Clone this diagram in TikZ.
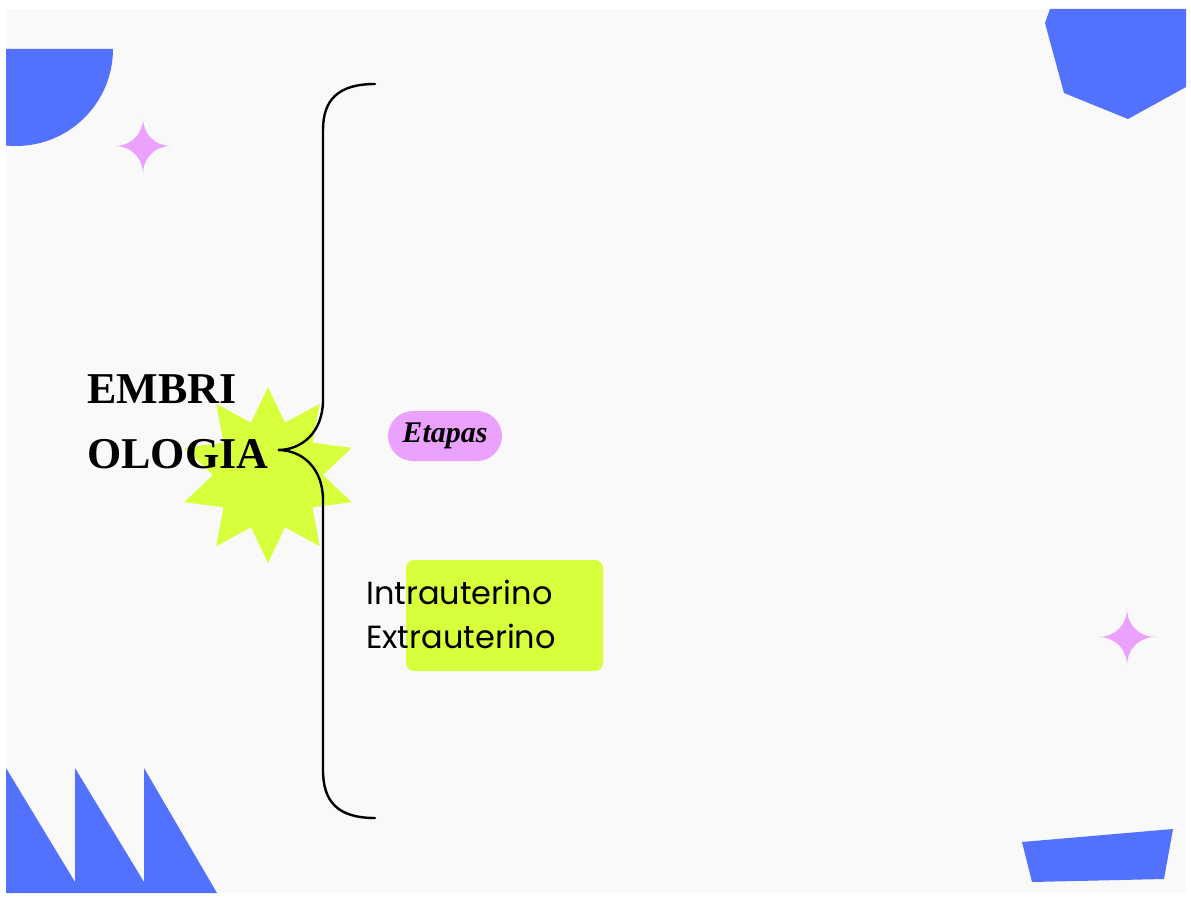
\documentclass[tikz,border=0pt]{standalone}
\usepackage{fontspec}
\setmainfont{Liberation Serif}
\newfontfamily\poppins{Poppins}
\usetikzlibrary{shapes.geometric}
\definecolor{azul}{HTML}{5271FF}
\definecolor{lila}{HTML}{EAA2FE}
\definecolor{lima}{HTML}{D8FF3C}
\definecolor{fondo}{HTML}{F9F9F9}
\begin{document}
\begin{tikzpicture}[x=1pt,y=-1pt,
				titulo/.style={anchor=base west,align=left,inner sep=0pt,
					font=\bfseries\fontsize{44}{65}\selectfont},
				etapa/.style={fill=lila,rounded corners=25pt,minimum width=114pt,
					minimum height=50pt,inner sep=0pt,
					font=\bfseries\itshape\fontsize{30}{36}\selectfont},
				caja/.style={fill=lima,rounded corners=8pt,minimum width=197pt,
					minimum height=111pt,inner sep=0pt},
				lista/.style={anchor=base west,align=left,inner sep=0pt,
					font=\poppins\fontsize{32}{44}\selectfont},
				destello/.style={fill=lila},
				llave/.style={line width=2.4pt,line cap=round}]
\useasboundingbox (0,0) rectangle (1191,899);
\fill[white] (0,0) rectangle (1191,899);
\fill[fondo] (6,9) rectangle (1186,893);
% formas azules
\begin{scope}
	\clip (6,9) rectangle (1186,893);
	\fill[azul] (113,49) arc[start angle=0,end angle=180,radius=97] -- cycle;
	\fill[azul] (1050,9) -- (1045,23) -- (1064,93) -- (1128,119) -- (1186,87)
		-- (1186,9) -- cycle;
	\fill[azul] (6,768) -- (75,882) -- (75,768) -- (144,882) -- (144,768)
		-- (217,893) -- (6,893) -- cycle;
	\fill[azul] (1022,842) -- (1173,829) -- (1164,879) -- (1032,882) -- cycle;
\end{scope}
% destellos
\foreach \cx/\cy/\r in {143/146/28, 1127/637/29}
	\fill[destello] (\cx,\cy-\r) .. controls (\cx,\cy-12) and (\cx+12,\cy) .. (\cx+\r,\cy)
		.. controls (\cx+12,\cy) and (\cx,\cy+12) .. (\cx,\cy+\r)
		.. controls (\cx,\cy+12) and (\cx-12,\cy) .. (\cx-\r,\cy)
		.. controls (\cx-12,\cy) and (\cx,\cy-12) .. cycle;
% estrella
\node[star,star points=10,star point ratio=1.6,minimum size=176pt,
	inner sep=0pt,fill=lima] (estrella) at (268,475) {};
% llave
\coordinate (arriba) at (375,84);
\coordinate (punta) at (278,450);
\coordinate (abajo) at (375,818);
\draw[llave] (arriba) .. controls (338,84) and (323,100) .. (323,130)
	-- (323,400) .. controls (323,432) and (302,450) .. (punta)
	.. controls (302,450) and (323,468) .. (323,500)
	-- (323,770) .. controls (323,802) and (338,818) .. (abajo);
% textos
\node[titulo] (embrio) at (87,468) {EMBRI\\OLOGIA};
\node[etapa] (etapas) at (445,436) {Etapas};
\node[caja] (tipos) at (504.5,615.5) {};
\node[lista] (lista) at (366,648) {Intrauterino\\Extrauterino};
\end{tikzpicture}
\end{document}
